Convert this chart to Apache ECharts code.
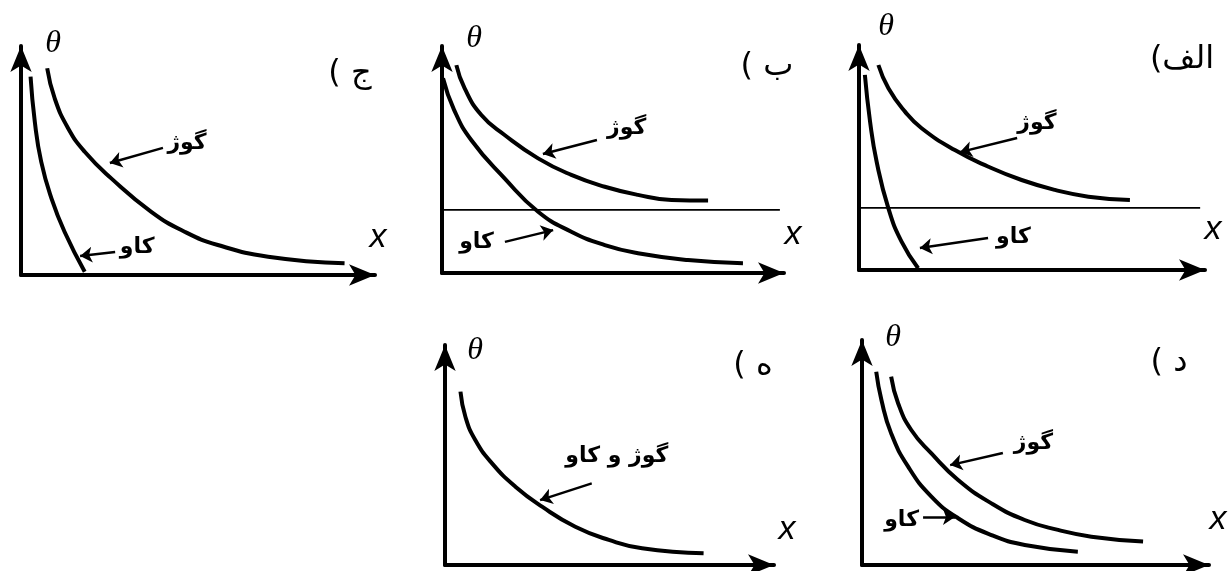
<!DOCTYPE html>
<html>
<head>
<meta charset="utf-8">
<script src="https://cdn.jsdelivr.net/npm/echarts@6/dist/echarts.min.js"></script>
<style>
  html, body { margin: 0; padding: 0; background: #fff; }
  #chart { width: 1229px; height: 571px; }
</style>
</head>
<body>
<div id="chart" dir="rtl"></div>
<script>
// Curve names
const convexName = 'گوژ';
const concaveName = 'کاو';
const bothName = 'گوژ و کاو';
const panelTitles = ['الف)', 'ب )', 'ج )', 'د )', 'ه )'];
const yName = 'θ';
const xName = 'x';

// Panel الف : concave drops to zero, convex levels on the line
const alefConvex = [[5.6, 91.1], [8.5, 80.8], [13.3, 70.4], [18.1, 63.0], [27.7, 53.3], [37.4, 45.9], [47.0, 40.0], [56.6, 35.6], [66.3, 32.6], [78.3, 31.1]];
const alefConcave = [[1.7, 86.7], [3.2, 65.9], [5.1, 48.1], [8.5, 27.4], [12.3, 12.6], [17.1, 0.8]];
const alefLevel = [[0, 27.6], [98.6, 27.6]];
const alefConvexArrow = [[45.7, 58.7], [29.2, 52.4]];
const alefConcaveArrow = [[37.3, 14.2], [17.6, 9.8]];
const alefConvexLabel = [51.4, 65.3];
const alefConcaveLabel = [44.6, 14.7];

// Panel ب : concave crosses the line, convex stays above it
const beConvex = [[4.2, 91.6], [6.6, 81.4], [11.5, 69.6], [18.3, 60.8], [28.1, 50.5], [37.8, 43.2], [47.6, 38.0], [57.3, 34.4], [67.1, 32.2], [77.8, 31.9]];
const beConcave = [[0.3, 85.8], [3.5, 72.0], [8.6, 58.5], [18.3, 41.7], [28.1, 27.0], [37.8, 18.2], [47.6, 12.3], [57.3, 8.7], [71.9, 5.7], [88.0, 4.3]];
const beLevel = [[0, 27.8], [98.8, 27.8]];
const beConvexArrow = [[45.3, 58.6], [29.5, 52.4]];
const beConcaveArrow = [[18.4, 13.7], [32.5, 18.9]];
const beConvexLabel = [54.0, 63.7];
const beConcaveLabel = [10.1, 13.7];

// Panel ج
const jimConvex = [[7.4, 90.3], [9.5, 77.2], [13.3, 64.1], [18.0, 53.8], [25.5, 42.2], [36.8, 27.6], [46.2, 18.9], [55.6, 13.1], [69.8, 8.0], [91.4, 5.1]];
const jimConcave = [[2.7, 86.6], [3.9, 66.9], [5.7, 49.5], [8.6, 33.5], [12.3, 18.9], [18.0, 1.4]];
const jimConvexArrow = [[40.1, 55.5], [25.1, 48.9]];
const jimConcaveArrow = [[26.6, 10.0], [16.7, 8.3]];
const jimConvexLabel = [46.9, 57.6];
const jimConcaveLabel = [32.8, 12.2];

// Panel د
const dalConvex = [[8.4, 83.7], [10.4, 71.9], [14.2, 60.0], [20.0, 49.6], [27.7, 37.8], [37.3, 27.4], [46.9, 20.0], [56.5, 15.6], [66.1, 12.6], [81.0, 10.4]];
const dalConcave = [[4.1, 85.9], [5.6, 73.3], [8.4, 58.5], [13.3, 43.7], [20.0, 30.4], [27.7, 20.8], [37.3, 13.3], [46.9, 8.9], [62.2, 5.9]];
const dalConvexArrow = [[40.6, 49.8], [25.4, 44.4]];
const dalConcaveArrow = [[17.6, 21.3], [26.8, 21.3]];
const dalConvexLabel = [49.4, 54.1];
const dalConcaveLabel = [11.4, 20.0];

// Panel ه : a single shared curve
const heCurve = [[4.7, 78.8], [6.2, 67.4], [9.2, 56.8], [14.3, 46.2], [21.4, 35.6], [29.5, 26.5], [39.6, 17.4], [49.8, 11.4], [59.9, 7.6], [78.6, 5.3]];
const heArrow = [[44.6, 37.1], [28.9, 29.5]];
const heLabel = [52.2, 49.2];

// Plot frames for الف, ب, ج, د, ه
const frames = [
  { left: 859, top: 45, width: 346, height: 225 },
  { left: 442, top: 46, width: 342, height: 227 },
  { left: 21, top: 46, width: 354, height: 229 },
  { left: 862, top: 340, width: 347, height: 225 },
  { left: 445, top: 345, width: 329, height: 220 }
];

// Axis-name and title anchors per panel
const textAnchors = [
  { theta: [886, 27], x: [1213, 230], title: [1182, 60] },
  { theta: [474, 39], x: [793, 235], title: [767, 67] },
  { theta: [53, 44], x: [378, 238], title: [350, 74] },
  { theta: [893, 338], x: [1218, 520], title: [1169, 363] },
  { theta: [475, 351], x: [787, 530], title: [753, 366] }
];

const axisLine = {
  show: true,
  onZero: false,
  symbol: ['none', 'arrow'],
  symbolSize: [16, 26],
  lineStyle: { color: '#000', width: 4 }
};

function makeAxis() {
  return {
    type: 'value', min: 0, max: 100,
    axisLine: axisLine,
    axisTick: { show: false },
    axisLabel: { show: false },
    splitLine: { show: false }
  };
}

function curve(i, data) {
  return {
    type: 'line', xAxisIndex: i, yAxisIndex: i, data: data,
    smooth: 0.5, symbol: 'none', silent: true,
    lineStyle: { color: '#000', width: 4 }
  };
}

function levelLine(i, data) {
  return {
    type: 'line', xAxisIndex: i, yAxisIndex: i, data: data,
    symbol: 'none', silent: true,
    lineStyle: { color: '#000', width: 1.6 }
  };
}

function pointer(i, coords) {
  return {
    type: 'lines', coordinateSystem: 'cartesian2d', xAxisIndex: i, yAxisIndex: i,
    symbol: ['none', 'arrow'], symbolSize: 12, silent: true,
    lineStyle: { color: '#000', width: 2.5, opacity: 1, curveness: 0 },
    data: [{ coords: coords }]
  };
}

function tag(i, pos, text) {
  return {
    type: 'scatter', xAxisIndex: i, yAxisIndex: i, silent: true,
    symbolSize: 1, itemStyle: { color: 'rgba(0,0,0,0)' },
    label: {
      show: true, position: 'inside', formatter: '{b}', opacity: 1,
      color: '#000', fontFamily: 'DejaVu Sans', fontSize: 22, fontWeight: 'bold'
    },
    data: [{ name: text, value: pos }]
  };
}

const series = [
  curve(0, alefConvex), curve(0, alefConcave), levelLine(0, alefLevel),
  pointer(0, alefConvexArrow), pointer(0, alefConcaveArrow),
  tag(0, alefConvexLabel, convexName), tag(0, alefConcaveLabel, concaveName),

  curve(1, beConvex), curve(1, beConcave), levelLine(1, beLevel),
  pointer(1, beConvexArrow), pointer(1, beConcaveArrow),
  tag(1, beConvexLabel, convexName), tag(1, beConcaveLabel, concaveName),

  curve(2, jimConvex), curve(2, jimConcave),
  pointer(2, jimConvexArrow), pointer(2, jimConcaveArrow),
  tag(2, jimConvexLabel, convexName), tag(2, jimConcaveLabel, concaveName),

  curve(3, dalConvex), curve(3, dalConcave),
  pointer(3, dalConvexArrow), pointer(3, dalConcaveArrow),
  tag(3, dalConvexLabel, convexName), tag(3, dalConcaveLabel, concaveName),

  curve(4, heCurve),
  pointer(4, heArrow),
  tag(4, heLabel, bothName)
];

function text(pos, str, font) {
  return {
    type: 'text', x: pos[0], y: pos[1], silent: true,
    style: {
      text: str, font: font, fill: '#000',
      textAlign: 'center', textVerticalAlign: 'middle',
      align: 'center', verticalAlign: 'middle'
    }
  };
}

const graphics = [];
textAnchors.forEach(function (a, i) {
  graphics.push(text(a.theta, yName, 'italic 32px "Liberation Serif"'));
  graphics.push(text(a.x, xName, 'italic 34px "Liberation Sans"'));
  graphics.push(text(a.title, panelTitles[i], '32px "DejaVu Sans"'));
});

const chart = echarts.init(document.getElementById('chart'), null, { renderer: 'canvas' });
chart.setOption({
  backgroundColor: '#fff',
  animation: false,
  grid: frames.map(function (f) { return Object.assign({ containLabel: false }, f); }),
  xAxis: frames.map(function (f, i) { return Object.assign({ gridIndex: i }, makeAxis()); }),
  yAxis: frames.map(function (f, i) { return Object.assign({ gridIndex: i }, makeAxis()); }),
  series: series,
  graphic: { elements: graphics }
});
</script>
</body>
</html>
